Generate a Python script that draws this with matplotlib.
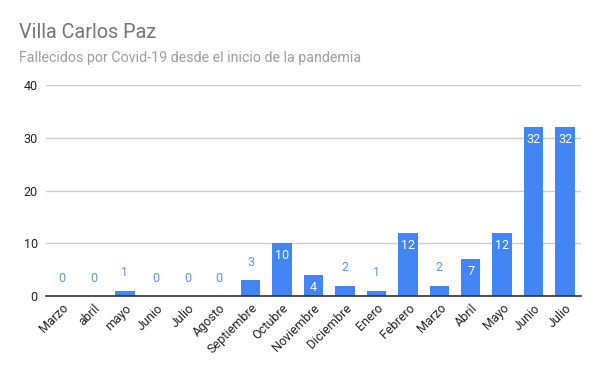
import matplotlib
matplotlib.use("Agg")
import matplotlib.pyplot as plt

plt.rcParams['font.family'] = ['Roboto', 'DejaVu Sans']

meses = ['Marzo', 'abril', 'mayo', 'Junio', 'Julio', 'Agosto', 'Septiembre',
         'Octubre', 'Noviembre', 'Diciembre', 'Enero', 'Febrero', 'Marzo',
         'Abril', 'Mayo', 'Junio', 'Julio']
fallecidos = [0, 0, 1, 0, 0, 0, 3, 10, 4, 2, 1, 12, 2, 7, 12, 32, 32]
y_ticks = [0, 10, 20, 30, 40]

azul = '#4285f4'

fig = plt.figure(figsize=(6, 3.71), dpi=100)
ax = fig.add_axes([0.077, 0.202, 0.891, 0.569])

x = list(range(len(meses)))
ax.bar(x, fallecidos, width=0.62, color=azul, zorder=3)

# etiquetas: dentro si la barra es alta, arriba si no
for xi, v in zip(x, fallecidos):
    if v >= 4:
        ax.annotate(str(v), (xi, v), xytext=(0, -9), textcoords='offset points',
                    ha='center', va='center', color='white', fontsize=9, zorder=4)
    else:
        ax.annotate(str(v), (xi, v), xytext=(0, 13), textcoords='offset points',
                    ha='center', va='center', color='#5b95f5', fontsize=9, zorder=4)

ax.set_xlim(-0.5, len(meses) - 0.5)
ax.set_ylim(0, 40)
ax.set_yticks(y_ticks)
ax.set_yticklabels([str(t) for t in y_ticks], fontsize=9, color='#222222')
ax.set_xticks(x)
ax.set_xticklabels(meses, rotation=45, ha='right', rotation_mode='anchor',
                   fontsize=9, color='#222222')
ax.tick_params(axis='both', length=0, pad=6)
ax.tick_params(axis='x', pad=4)

ax.grid(axis='y', color='#cccccc', linewidth=1, zorder=0)
for s in ['top', 'right', 'left']:
    ax.spines[s].set_visible(False)
ax.spines['bottom'].set_color('#333333')
ax.spines['bottom'].set_linewidth(1.2)
ax.spines['bottom'].set_zorder(5)

fig.text(0.032, 0.898, 'Villa Carlos Paz', fontsize=14.3, color='#757575', va='baseline')
fig.text(0.032, 0.833, 'Fallecidos por Covid-19 desde el inicio de la pandemia',
         fontsize=10.3, color='#9e9e9e', va='baseline')

fig.savefig('out.png', dpi=100)
